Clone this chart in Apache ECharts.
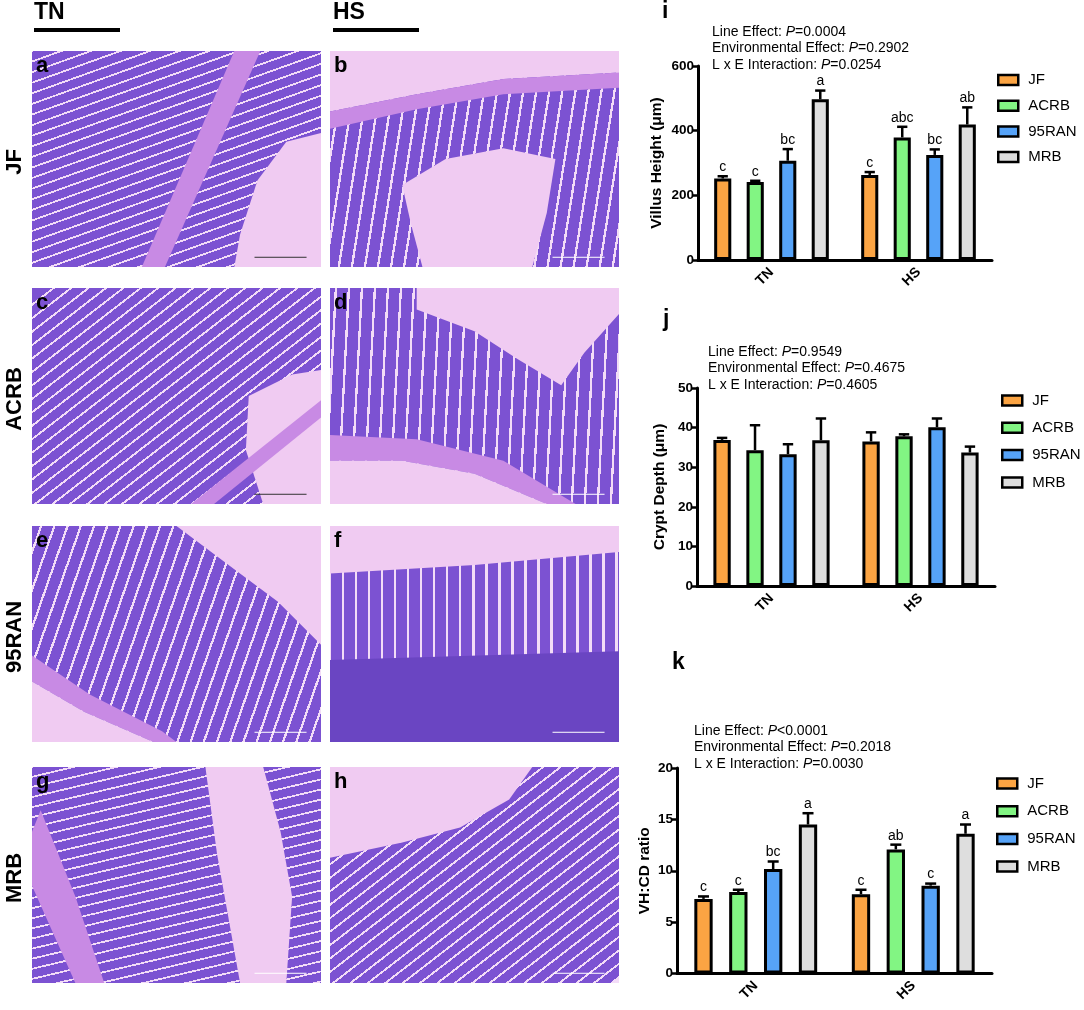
<!DOCTYPE html>
<html>
<head>
<meta charset="utf-8">
<script src="https://cdn.jsdelivr.net/npm/echarts@6.0.0/dist/echarts.min.js"></script>
<style>
  html, body { margin: 0; padding: 0; background: #fff; }
  #chart { width: 1084px; height: 1010px; }
</style>
</head>
<body>
<div id="chart"></div>
<script>
const cats = ['TN', 'HS'];
const lines = ['JF', 'ACRB', '95RAN', 'MRB'];
const lineColors = ['#fba443', '#82f583', '#56a3f8', '#dedede'];

// i: villus height (µm), one row per line, [TN, HS]
const vhMean = [[252, 263], [241, 379], [307, 325], [497, 419]];
const vhSem = [[7, 9], [4, 33], [36, 17], [27, 53]];
const vhLetters = [['c', 'c'], ['c', 'abc'], ['bc', 'bc'], ['a', 'ab']];
const vhNotes = [['Line Effect: ', '=0.0004'], ['Environmental Effect: ', '=0.2902'], ['L x E Interaction: ', '=0.0254']];

// j: crypt depth (µm)
const cdMean = [[36.9, 36.5], [34.3, 37.8], [33.3, 40.1], [36.8, 33.7]];
const cdSem = [[0.5, 2.3], [6.3, 0.5], [2.5, 2.2], [5.5, 1.5]];
const cdNotes = [['Line Effect: ', '=0.9549'], ['Environmental Effect: ', '=0.4675'], ['L x E Interaction: ', '=0.4605']];

// k: VH:CD ratio
const ratioMean = [[7.26, 7.72], [7.92, 12.08], [10.17, 8.55], [14.5, 13.6]];
const ratioSem = [[0.24, 0.43], [0.23, 0.46], [0.73, 0.2], [1.1, 0.9]];
const ratioLetters = [['c', 'c'], ['c', 'ab'], ['bc', 'c'], ['a', 'a']];
const ratioNotes = [['Line Effect: ', '<0.0001'], ['Environmental Effect: ', '=0.2018'], ['L x E Interaction: ', '=0.0030']];

const FONT = '"Liberation Sans", Arial, sans-serif';
const CAT_GAP = 0.22;
const BAR_GAP = 0.9;

const charts = [
  { tag: 'i', tagPos: [662, 12], mean: vhMean, sem: vhSem, letters: vhLetters, notes: vhNotes, notePos: [712, 32],
    yName: 'Villus Height (μm)', max: 600, step: 200, nameGap: 33,
    grid: { left: 698, top: 66, width: 294, height: 194 }, legend: { left: 992, top: 67.5, gap: 10.7 } },
  { tag: 'j', tagPos: [663, 320], mean: cdMean, sem: cdSem, letters: null, notes: cdNotes, notePos: [708, 352],
    yName: 'Crypt Depth (μm)', max: 50, step: 10, nameGap: 29,
    grid: { left: 697, top: 388, width: 298, height: 198 }, legend: { left: 996, top: 388, gap: 12.3 } },
  { tag: 'k', tagPos: [672, 663], mean: ratioMean, sem: ratioSem, letters: ratioLetters, notes: ratioNotes, notePos: [694, 731],
    yName: 'VH:CD ratio', max: 20, step: 5, nameGap: 24,
    grid: { left: 677, top: 768, width: 315, height: 205.5 }, legend: { left: 991, top: 771, gap: 12.7 } }
];

// error bar (upper only) + significance letter, placed on the matching bar
function errorBar(li, letters) {
  return (params, api) => {
    const cat = api.value(0);
    const mean = api.value(1);
    const base = api.coord([cat, mean]);
    const top = api.coord([cat, mean + api.value(2)]);
    const band = api.size([1, 0])[0];
    const group = band * (1 - CAT_GAP);
    const b = group / (4 + 3 * BAR_GAP);
    const cx = base[0] - group / 2 + b / 2 + li * b * (1 + BAR_GAP);
    const cap = b * 0.3;
    const children = [
      { type: 'line', shape: { x1: cx, y1: base[1], x2: cx, y2: top[1] }, style: { stroke: '#000', lineWidth: 2.5 } },
      { type: 'line', shape: { x1: cx - cap, y1: top[1], x2: cx + cap, y2: top[1] }, style: { stroke: '#000', lineWidth: 2.5 } }
    ];
    if (letters) {
      children.push({ type: 'text', x: cx, y: top[1] - 2,
        style: { text: letters[params.dataIndex], fill: '#000', font: '14px ' + FONT, align: 'center', verticalAlign: 'bottom' } });
    }
    return { type: 'group', children };
  };
}

// --- micrograph stand-ins (decoration only) ---
const VILLUS = '#7c52d2';
const GAP = '#f3dcf7';
const LUMEN = '#f0cbf2';
const MUSCLE = '#c88ae4';
const CRYPT = '#6a45c2';

function stripeFill(angle, n, frac) {
  const r = angle * Math.PI / 180;
  const dx = Math.cos(r) * 0.72, dy = Math.sin(r) * 0.72;
  const stops = [];
  for (let k = 0; k < n; k++) {
    stops.push({ offset: k / n, color: VILLUS }, { offset: (k + frac) / n, color: VILLUS },
      { offset: (k + frac) / n, color: GAP }, { offset: (k + 1) / n, color: GAP });
  }
  return new echarts.graphic.LinearGradient(0.5 - dx, 0.5 - dy, 0.5 + dx, 0.5 + dy, stops);
}

const panels = [
  { id: 'a', x: 32, y: 51, ang: 75, dark: true, shapes: [
    [MUSCLE, [[0.38, 1], [0.46, 1], [0.79, 0], [0.7, 0]]],
    [LUMEN, [[0.78, 0.6], [0.88, 0.42], [1, 0.38], [1, 1], [0.7, 1], [0.72, 0.85]]]] },
  { id: 'b', x: 330, y: 51, ang: 12, shapes: [
    [LUMEN, [[0, 0], [1, 0], [1, 0.1], [0.6, 0.13], [0.3, 0.2], [0, 0.28]]],
    [MUSCLE, [[0, 0.28], [0.3, 0.2], [0.6, 0.13], [1, 0.1], [1, 0.17], [0.6, 0.2], [0.3, 0.27], [0, 0.36]]],
    [LUMEN, [[0.25, 0.62], [0.4, 0.5], [0.6, 0.45], [0.78, 0.5], [0.75, 0.75], [0.7, 1], [0.32, 1], [0.28, 0.8]]]] },
  { id: 'c', x: 32, y: 288, ang: 60, dark: true, shapes: [
    [LUMEN, [[0.75, 0.5], [0.9, 0.4], [1, 0.38], [1, 1], [0.8, 1], [0.74, 0.75]]],
    [MUSCLE, [[0.55, 1], [0.63, 1], [1, 0.6], [1, 0.52]]]] },
  { id: 'd', x: 330, y: 288, ang: 4, shapes: [
    [LUMEN, [[0.3, 0], [1, 0], [1, 0.12], [0.88, 0.3], [0.8, 0.45], [0.65, 0.33], [0.5, 0.2], [0.3, 0.1]]],
    [MUSCLE, [[0, 0.68], [0.3, 0.7], [0.6, 0.8], [0.85, 1], [0.75, 1], [0.5, 0.86], [0.25, 0.8], [0, 0.8]]],
    [LUMEN, [[0, 0.8], [0.25, 0.8], [0.5, 0.86], [0.75, 1], [0, 1]]]] },
  { id: 'e', x: 32, y: 526, ang: 25, shapes: [
    [LUMEN, [[0.5, 0], [1, 0], [1, 0.55], [0.85, 0.35], [0.7, 0.2]]],
    [MUSCLE, [[0, 0.6], [0.2, 0.78], [0.45, 0.95], [0.5, 1], [0.42, 1], [0.18, 0.86], [0, 0.72]]],
    [LUMEN, [[0, 0.72], [0.18, 0.86], [0.42, 1], [0, 1]]]] },
  { id: 'f', x: 330, y: 526, ang: 0, shapes: [
    [LUMEN, [[0, 0], [1, 0], [1, 0.12], [0.5, 0.18], [0, 0.22]]],
    [CRYPT, [[0, 0.62], [1, 0.58], [1, 1], [0, 1]]]] },
  { id: 'g', x: 32, y: 767, ang: 80, shapes: [
    [LUMEN, [[0.6, 0], [0.8, 0], [0.86, 0.3], [0.9, 0.6], [0.88, 1], [0.72, 1], [0.68, 0.7], [0.64, 0.4]]],
    [MUSCLE, [[0, 0.3], [0.03, 0.2], [0.15, 0.6], [0.25, 1], [0.15, 1], [0, 0.55]]]] },
  { id: 'h', x: 330, y: 767, ang: 60, shapes: [
    [LUMEN, [[0, 0], [0.7, 0], [0.62, 0.15], [0.45, 0.28], [0.25, 0.35], [0, 0.42]]]] }
];
const PANEL_W = 289;
const PANEL_H = 216;

const graphic = [];
panels.forEach(p => {
  const pt = ([u, v]) => [p.x + u * PANEL_W, p.y + v * PANEL_H];
  graphic.push({ type: 'rect', shape: { x: p.x, y: p.y, width: PANEL_W, height: PANEL_H }, style: { fill: stripeFill(p.ang, 32, 0.82) } });
  p.shapes.forEach(([fill, poly]) => {
    graphic.push({ type: 'polygon', shape: { points: poly.map(pt) }, style: { fill } });
  });
  // scale bar
  graphic.push({ type: 'line', shape: { x1: p.x + 0.77 * PANEL_W, y1: p.y + 0.955 * PANEL_H, x2: p.x + 0.95 * PANEL_W, y2: p.y + 0.955 * PANEL_H },
    style: { stroke: p.dark ? '#333' : '#fff', lineWidth: 1 } });
  graphic.push({ type: 'text', x: p.x + 4, y: p.y + 15,
    style: { text: p.id, fill: '#000', font: 'bold 22px ' + FONT, align: 'left', verticalAlign: 'middle' } });
});

// column headers and row labels
[['TN', 34], ['HS', 333]].forEach(([t, x]) => {
  graphic.push({ type: 'text', x, y: 13, style: { text: t, fill: '#000', font: 'bold 23px ' + FONT, align: 'left', verticalAlign: 'middle' } });
  graphic.push({ type: 'rect', shape: { x, y: 28, width: 86, height: 4 }, style: { fill: '#000' } });
});
lines.forEach((t, i) => {
  const p = panels[i * 2];
  graphic.push({ type: 'text', x: 15, y: p.y + PANEL_H / 2 + 3, rotation: Math.PI / 2,
    style: { text: t, fill: '#000', font: 'bold 22px ' + FONT, align: 'center', verticalAlign: 'middle' } });
});

const option = {
  animation: false,
  backgroundColor: '#fff',
  grid: [],
  xAxis: [],
  yAxis: [],
  legend: [],
  series: [],
  graphic
};

charts.forEach((c, gi) => {
  option.grid.push(c.grid);
  option.xAxis.push({
    type: 'category', gridIndex: gi, data: cats,
    axisLine: { lineStyle: { color: '#000', width: 3 } },
    axisTick: { alignWithLabel: true, length: 5, lineStyle: { color: '#000', width: 2.5 } },
    axisLabel: { rotate: 45, margin: 10, color: '#000', fontWeight: 'bold', fontSize: 14, fontFamily: FONT }
  });
  option.yAxis.push({
    type: 'value', gridIndex: gi, min: 0, max: c.max, interval: c.step,
    name: c.yName, nameLocation: 'middle', nameGap: c.nameGap,
    nameTextStyle: { color: '#000', fontWeight: 'bold', fontSize: 15.5, fontFamily: FONT },
    axisLine: { show: true, lineStyle: { color: '#000', width: 3 } },
    axisTick: { show: true, length: 5, lineStyle: { color: '#000', width: 2.5 } },
    axisLabel: { margin: 4, color: '#000', fontWeight: 'bold', fontSize: 13.5, fontFamily: FONT },
    splitLine: { show: false }
  });
  option.legend.push({
    data: lines, orient: 'vertical', left: c.legend.left, top: c.legend.top, itemGap: c.legend.gap,
    itemWidth: 20, itemHeight: 10, icon: 'rect', selectedMode: false,
    itemStyle: { borderColor: '#000', borderWidth: 2.5 },
    textStyle: { color: '#000', fontSize: 15, fontFamily: FONT, padding: [0, 0, 0, 5] }
  });
  lines.forEach((name, li) => {
    option.series.push({
      type: 'bar', name, xAxisIndex: gi, yAxisIndex: gi, data: c.mean[li],
      barGap: (BAR_GAP * 100) + '%', barCategoryGap: (CAT_GAP * 100) + '%',
      itemStyle: { color: lineColors[li], borderColor: '#000', borderWidth: 3 }
    });
    option.series.push({
      type: 'custom', name: name + ' SEM', xAxisIndex: gi, yAxisIndex: gi, z: 3, clip: false,
      data: c.mean[li].map((m, k) => [k, m, c.sem[li][k]]),
      encode: { x: 0, y: 1 },
      renderItem: errorBar(li, c.letters ? c.letters[li] : null)
    });
  });

  // panel tag and ANOVA notes
  graphic.push({ type: 'text', x: c.tagPos[0], y: c.tagPos[1],
    style: { text: c.tag, fill: '#000', font: 'bold 23px ' + FONT, align: 'left', verticalAlign: 'middle' } });
  c.notes.forEach(([a, b], k) => {
    graphic.push({ type: 'text', x: c.notePos[0], y: c.notePos[1] + k * 16.5,
      style: {
        text: `{n|${a}}{i|P}{n|${b}}`, verticalAlign: 'middle', align: 'left',
        rich: {
          n: { fill: '#000', fontSize: 14, fontFamily: FONT },
          i: { fill: '#000', fontSize: 14, fontStyle: 'italic', fontFamily: FONT }
        }
      } });
  });
});

const chart = echarts.init(document.getElementById('chart'));
chart.setOption(option);
</script>
</body>
</html>
